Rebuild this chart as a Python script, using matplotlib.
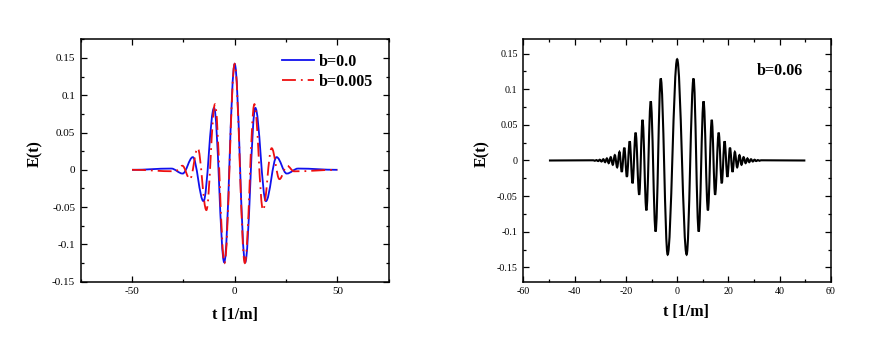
import numpy as np
import matplotlib
matplotlib.use("Agg")
import matplotlib.pyplot as plt
from matplotlib.path import Path
from matplotlib.patches import PathPatch
from matplotlib.lines import Line2D
from matplotlib.ticker import MultipleLocator, FuncFormatter

plt.rcParams['font.family'] = ['Liberation Serif', 'DejaVu Serif']
plt.rcParams['axes.unicode_minus'] = False
plt.rcParams['lines.scale_dashes'] = False

# ---- data: extrema of each (symmetric) curve, t >= 0 ----
# left panel, b = 0.0
t_b0 = [0, 5.1, 10.05, 15.2, 20.4, 25.35, 30.9, 50]
E_b0 = [0.142, -0.124, 0.083, -0.042, 0.017, -0.005, 0.0017, 0.0]
# left panel, b = 0.005
t_b005 = [0, 4.95, 9.6, 13.8, 18.0, 21.8, 25.5, 28.9, 50]
E_b005 = [0.142, -0.125, 0.088, -0.054, 0.029, -0.0125, 0.0055, -0.002, 0.0]
# right panel, b = 0.06
t_b06 = [0, 3.7, 6.4, 8.4, 10.3, 12.0, 13.5, 14.8, 16.2, 17.4, 18.5, 19.6, 20.6,
         21.6, 22.5, 23.4, 24.3, 25.1, 25.9, 26.7, 27.4, 28.1, 28.8, 29.5, 30.2,
         30.8, 31.5, 32.1, 32.7, 50]
E_b06 = [0.142, -0.132, 0.115, -0.0997, 0.083, -0.070, 0.057, -0.048, 0.039,
         -0.032, 0.027, -0.023, 0.018, -0.016, 0.012, -0.0095, 0.0075, -0.006,
         0.0047, -0.0037, 0.0029, -0.0023, 0.0018, -0.0014, 0.0011, -0.0008,
         0.0006, -0.0004, 0.0003, 0.0]

legend_labels = ['b=0.0', 'b=0.005']
right_label = 'b=0.06'
xlabel = 't [1/m]'
ylabel = 'E(t)'


def mirrored(t, e):
    t = np.asarray(t, float)
    e = np.asarray(e, float)
    return np.concatenate([-t[::-1], t[1:]]), np.concatenate([e[::-1], e[1:]])


def extrema_path(t, e, k=0.364):
    # smooth cubic Bezier segments with horizontal tangents at each extremum
    verts = [(t[0], e[0])]
    codes = [Path.MOVETO]
    for i in range(len(t) - 1):
        d = t[i + 1] - t[i]
        verts += [(t[i] + k * d, e[i]), (t[i + 1] - k * d, e[i + 1]), (t[i + 1], e[i + 1])]
        codes += [Path.CURVE4] * 3
    return Path(verts, codes)


def fmt(v, pos):
    s = ('%.3f' % v).rstrip('0').rstrip('.')
    if s in ('-0', ''):
        s = '0'
    return s


W, H = 894, 338
fig = plt.figure(figsize=(W / 100, H / 100), dpi=100)
axL = fig.add_axes([80.7 / W, 1 - 281.7 / H, 308 / W, 242.4 / H])
axR = fig.add_axes([523.3 / W, 1 - 281.7 / H, 307.7 / W, 242.4 / H])

dash_dot = (0, (10, 3.6, 1.3, 3.6))

# left panel
tb, eb = mirrored(t_b0, E_b0)
axL.add_patch(PathPatch(extrema_path(tb, eb), fill=False, edgecolor='#1010ee', lw=1.3, zorder=3))
tr, er = mirrored(t_b005, E_b005)
axL.add_patch(PathPatch(extrema_path(tr, er), fill=False, edgecolor='#ee1010', lw=1.3,
                        linestyle=dash_dot, zorder=4))
axL.set_xlim(-75, 75)
axL.set_ylim(-0.15, 0.175)
axL.xaxis.set_major_locator(MultipleLocator(50))
axL.xaxis.set_minor_locator(MultipleLocator(25))
axL.yaxis.set_major_locator(MultipleLocator(0.05))
axL.yaxis.set_minor_locator(MultipleLocator(0.025))

handles = [Line2D([], [], color='#1010ee', lw=1.3),
           Line2D([], [], color='#ee1010', lw=1.3, linestyle=dash_dot)]
leg = axL.legend(handles, legend_labels, loc='upper left', bbox_to_anchor=(0.653, 0.94),
                 frameon=False, handlelength=2.0, handletextpad=0.3, labelspacing=0.25,
                 borderpad=0, borderaxespad=0,
                 prop={'family': 'Liberation Serif', 'weight': 'bold', 'size': 11.5})

# right panel
t6, e6 = mirrored(t_b06, E_b06)
axR.add_patch(PathPatch(extrema_path(t6, e6), fill=False, edgecolor='black', lw=1.5, zorder=3))
axR.set_xlim(-60, 60)
axR.set_ylim(-0.17, 0.17)
axR.xaxis.set_major_locator(MultipleLocator(20))
axR.xaxis.set_minor_locator(MultipleLocator(10))
axR.yaxis.set_major_locator(MultipleLocator(0.05))
axR.yaxis.set_minor_locator(MultipleLocator(0.025))
axR.text(0.7585, 0.87, right_label, transform=axR.transAxes, ha='left', va='center',
         fontsize=11.5, fontweight='bold')

for ax, tsize in ((axL, 8.0), (axR, 7.2)):
    for sp in ax.spines.values():
        sp.set_linewidth(1.1)
    ax.tick_params(which='both', direction='in', top=True, right=True, width=0.9)
    ax.tick_params(which='major', length=4, labelsize=tsize, pad=4)
    ax.tick_params(which='minor', length=2)
    ax.xaxis.set_major_formatter(FuncFormatter(fmt))
    ax.yaxis.set_major_formatter(FuncFormatter(fmt))
    ax.set_xlabel(xlabel, fontsize=11.5, fontweight='bold', va='center')
    ax.set_ylabel(ylabel, fontsize=11.5, fontweight='bold', va='center')

axL.xaxis.set_label_coords(0.5, -0.137)
axL.yaxis.set_label_coords(-0.148, 0.53)
axR.xaxis.set_label_coords(0.528, -0.124)
axR.yaxis.set_label_coords(-0.135, 0.53)

fig.savefig('out.png', dpi=100)
